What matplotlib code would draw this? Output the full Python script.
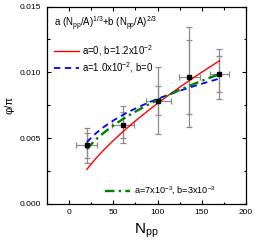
import numpy as np
import matplotlib
matplotlib.use("Agg")
import matplotlib.pyplot as plt
from matplotlib.ticker import MultipleLocator, FormatStrFormatter

plt.rcParams["font.family"] = ["Liberation Sans", "DejaVu Sans"]
plt.rcParams["mathtext.fontset"] = "custom"
plt.rcParams["mathtext.rm"] = "Liberation Sans"
plt.rcParams["mathtext.it"] = "Liberation Sans:italic"
plt.rcParams["mathtext.default"] = "rm"

# data points
npp = [20, 61, 101, 136, 170]
npp_err = [12, 12.5, 14, 12, 11]
phi = [0.00444, 0.00600, 0.00784, 0.00965, 0.00987]
err_outer = [0.00134, 0.00140, 0.00255, 0.00382, 0.00190]
err_inner = [0.00096, 0.00100, 0.00110, 0.00280, 0.00140]

# model parameters: a (Npp/A)^(1/3) + b (Npp/A)^(2/3)
A = 197
fit_red = (0.0, 1.2e-2)
fit_blue = (1.0e-2, 0.0)
fit_green = (7.5e-3, 3e-3)
n_range = (20, 170)

labels = ["a=0, b=1.2x10$^{-2}$", "a=1.0x10$^{-2}$, b=0", "a=7x10$^{-3}$, b=3x10$^{-3}$"]

fig = plt.figure(figsize=(2.57, 2.44), dpi=100)
ax = fig.add_axes([0.183, 0.165, 0.774, 0.808])

n = np.linspace(n_range[0], n_range[1], 200)
def model(p):
    a, b = p
    return a * (n / A) ** (1 / 3) + b * (n / A) ** (2 / 3)

l1, = ax.plot(n, model(fit_red), color="red", lw=1.0, zorder=3)
l2, = ax.plot(n, model(fit_blue), color="blue", lw=1.3, ls=(0, (3.5, 2.5)), zorder=3)
l3, = ax.plot(n, model(fit_green), color="green", lw=1.7, ls=(0, (4, 1.8, 1, 1.8)), zorder=3)

ecol = "#8c8c8c"
ax.errorbar(npp, phi, yerr=err_outer, xerr=npp_err, fmt="none", ecolor=ecol,
            elinewidth=0.9, capsize=2.5, capthick=0.9, zorder=2)
ax.errorbar(npp, phi, yerr=err_inner, fmt="none", ecolor=ecol,
            elinewidth=0.9, capsize=2.5, capthick=0.9, zorder=2)
ax.plot(npp, phi, "s", color="black", ms=3.5, zorder=4)

ax.set_xlim(-25, 200)
ax.set_ylim(0, 0.015)
ax.xaxis.set_major_locator(MultipleLocator(50))
ax.xaxis.set_minor_locator(MultipleLocator(25))
ax.yaxis.set_major_locator(MultipleLocator(0.005))
ax.yaxis.set_minor_locator(MultipleLocator(0.0025))
ax.yaxis.set_major_formatter(FormatStrFormatter("%.3f"))
ax.tick_params(which="both", direction="in", top=True, right=True, labelsize=6, width=0.8)
ax.tick_params(which="major", length=3, pad=4)
ax.tick_params(which="minor", length=1.8)
for s in ax.spines.values():
    s.set_linewidth(0.9)

ax.set_xlabel("N$_{\\rm pp}$", fontsize=11, labelpad=4)
ax.set_ylabel("\u03c6/\u03c0", fontsize=8, labelpad=4)

ax.text(0.035, 0.96, "a (N$_{\\rm pp}$/A)$^{1/3}$+b (N$_{\\rm pp}$/A)$^{2/3}$",
        transform=ax.transAxes, fontsize=6.9, va="top", ha="left")

leg1 = ax.legend([l1, l2], labels[:2], loc="upper left", bbox_to_anchor=(0.0, 0.85),
                 frameon=False, fontsize=6.9, handlelength=2.6, handletextpad=0.4,
                 labelspacing=0.25, borderaxespad=0.3)
ax.add_artist(leg1)
ax.legend([l3], labels[2:], loc="lower right", bbox_to_anchor=(0.88, 0.0),
          frameon=False, fontsize=6.6, handlelength=2.7, handletextpad=0.4,
          borderaxespad=0.3)

fig.savefig("out.png", dpi=100)
